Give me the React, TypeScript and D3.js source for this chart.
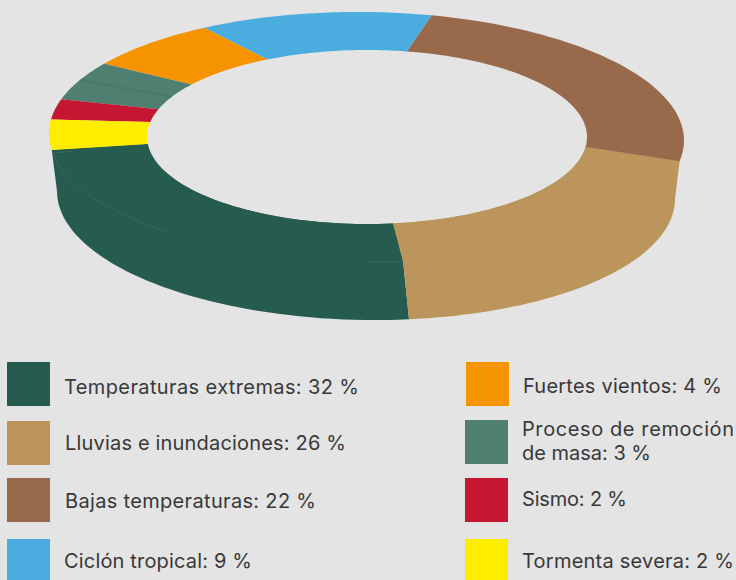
import * as d3 from "d3";

const categories = [
    "Temperaturas extremas",
    "Lluvias e inundaciones",
    "Bajas temperaturas",
    "Ciclón tropical",
    "Fuertes vientos",
    "Proceso de remoción de masa",
    "Sismo",
    "Tormenta severa",
];
const percents = [32, 26, 22, 9, 4, 3, 2, 2];
const colors = ["#265C4F", "#BC955C", "#98694B", "#4BACDF", "#F59300", "#4E7F70", "#C51632", "#FFED00"];

// the drawing is a perspective view, so the visible slices are not the labelled percents.
// these are the spans as they look in the picture, in degrees round each edge of the ring
const outerSpans = [89, 73.8, 87.7, 42.6, 25, 18.2, 9.6, 14];
const innerSpans = [92.2, 76.6, 86.2, 37.3, 26, 18.5, 8.7, 14.5];
const wallSpans = [98, 82];

const width = 736;
const height = 580;
const rad = Math.PI / 180;

// k tilts the ellipse a little, right side lower
const outer = { cx: 366.5, cy: 137, rx: 317.5, ry: 125, k: 0.011 };
const inner = { cx: 367, cy: 137, rx: 220, ry: 87, k: 0 };
const base = { cx: 366, cy: 195, rx: 309, ry: 125, k: 0.012 };

type Ellipse = typeof outer;

const line = d3.line();

const arcPoints = (e: Ellipse, a0: number, a1: number): [number, number][] => {
    const t = d3.scaleLinear().domain([0, 48]).range([a0, a1]);
    return d3.range(49).map((i) => {
        const dx = e.rx * Math.sin(t(i));
        return [e.cx + dx, e.cy - e.ry * Math.cos(t(i)) + e.k * dx];
    });
};

const pieFrom = (start: number, end: number) =>
    d3
        .pie<number>()
        .sort(null)
        .value((d) => d)
        .startAngle(start * rad)
        .endAngle(end * rad);

const outerArcs = pieFrom(262.4, -97.6)(outerSpans);
const innerArcs = pieFrom(265.4, -94.6)(innerSpans);
const wallArcs = pieFrom(270, 90)(wallSpans);

const slicePath = (i: number) =>
    line([
        ...arcPoints(outer, outerArcs[i].startAngle, outerArcs[i].endAngle),
        ...arcPoints(inner, innerArcs[i].endAngle, innerArcs[i].startAngle),
    ]) + "Z";

// the wall runs on under its top slice so no seam shows along the outer edge
const wallPath = (i: number) =>
    line([
        ...arcPoints(inner, innerArcs[i].startAngle, innerArcs[i].endAngle),
        ...arcPoints(outer, outerArcs[i].endAngle, outerArcs[i].endAngle).slice(0, 1),
        ...arcPoints(base, wallArcs[i].endAngle, wallArcs[i].startAngle),
        ...arcPoints(outer, outerArcs[i].startAngle, outerArcs[i].startAngle).slice(0, 1),
    ]) + "Z";

const seam = (e: Ellipse, a0: number, a1: number) => line(arcPoints(e, a0 * rad, a1 * rad)) ?? "";

const spoke = (outerDeg: number, innerDeg: number, part: number) => {
    const a = arcPoints(outer, outerDeg * rad, outerDeg * rad)[0];
    const b = arcPoints(inner, innerDeg * rad, innerDeg * rad)[0];
    return line([a, [a[0] + (b[0] - a[0]) * part, a[1] + (b[1] - a[1]) * part]]) ?? "";
};

const legendLabels = categories.map((c, i) => `${c}: ${percents[i]} %`);

const App = () => {
    return (
        <svg
            width={width}
            height={height}
            viewBox={`0 0 ${width} ${height}`}
            style={{ position: "absolute", left: 0, top: 0, background: "#E4E4E4" }}
        >
            {wallSpans.map((_, i) => (
                <path key={i} d={wallPath(i)} fill={colors[i]} />
            ))}
            {categories.map((c, i) => (
                <path key={c} d={slicePath(i)} fill={colors[i]} />
            ))}

            {/* faint seams left over in the original artwork */}
            <path d={seam(outer, 173.4, 180)} fill="none" stroke="#4f7562" strokeWidth={0.6} />
            <path d={seam(outer, 219, 262)} fill="none" stroke="#52806f" strokeWidth={0.5} strokeDasharray="2 1" />
            <path d={spoke(261, 265, 0.2)} fill="none" stroke="#566f55" strokeWidth={0.6} />
            <path d={spoke(295.5, 297.5, 1)} fill="none" stroke="#3f7062" strokeWidth={0.7} />

            <rect x={7} y={362} width={43} height={44} fill={colors[0]} />
            <rect x={7} y={421} width={43} height={44} fill={colors[1]} />
            <rect x={7} y={478} width={43} height={44} fill={colors[2]} />
            <rect x={7} y={539} width={43} height={44} fill={colors[3]} />
            <rect x={466} y={362} width={43} height={44} fill={colors[4]} />
            <rect x={465} y={420} width={43} height={44} fill={colors[5]} />
            <rect x={465} y={478} width={43} height={44} fill={colors[6]} />
            <rect x={465} y={539} width={43} height={44} fill={colors[7]} />

            <g fontFamily="Inter, 'Open Sans', sans-serif" fontSize={20} fill="#383838">
                <text x={64} y={394} textLength={295}>{legendLabels[0]}</text>
                <text x={65} y={450} textLength={281}>{legendLabels[1]}</text>
                <text x={65} y={508} textLength={251}>{legendLabels[2]}</text>
                <text x={64} y={568} textLength={188}>{legendLabels[3]}</text>
                <text x={523} y={393} textLength={199}>{legendLabels[4]}</text>
                <text x={522} y={436} textLength={212}>Proceso de remoción</text>
                <text x={522} y={460} textLength={129}>de masa: {percents[5]} %</text>
                <text x={522} y={506} textLength={105}>{legendLabels[6]}</text>
                <text x={522} y={568} textLength={212}>{legendLabels[7]}</text>
            </g>
        </svg>
    );
};

export default App;
